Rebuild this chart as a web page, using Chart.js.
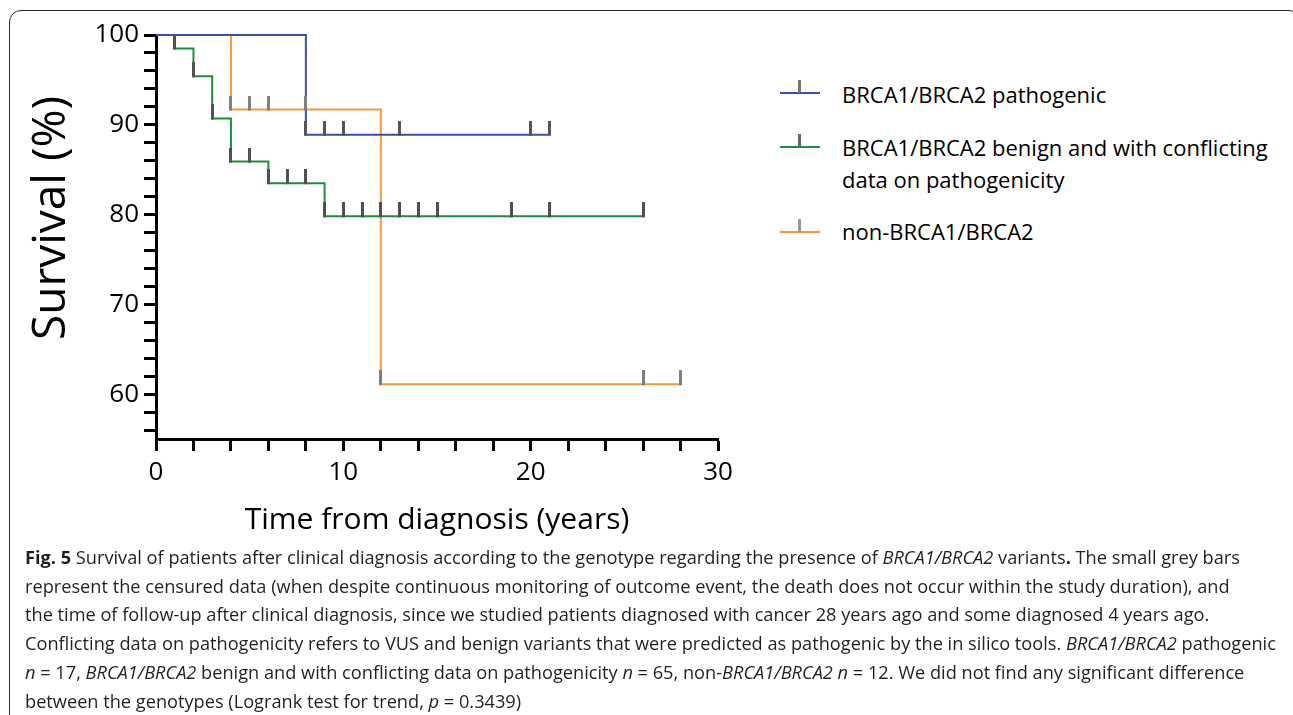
<!DOCTYPE html>
<html>
<head>
<meta charset="utf-8">
<script src="https://cdn.jsdelivr.net/npm/chart.js@4.4.1/dist/chart.umd.min.js"></script>
<style>
  body { margin: 0; width: 1293px; height: 715px; overflow: hidden; background: #fff; position: relative; font-family: "Open Sans", sans-serif; }
  #frame { position: absolute; left: 9px; top: 10px; width: 1290px; height: 730px; border: 1px solid #2a2a2a; border-radius: 12px; }
  #plot { position: absolute; left: 0; top: 0; }
  #ytitle { position: absolute; left: -153px; top: 188px; width: 400px; height: 60px; line-height: 60px; text-align: center;
            font-size: 46px; color: #000; transform: rotate(-90deg); white-space: nowrap; }
  .lg-line { position: absolute; left: 780px; width: 40px; height: 2px; }
  .lg-mark { position: absolute; left: 798px; width: 3px; height: 13px; }
  .lg-text { position: absolute; left: 842px; font-size: 22px; line-height: 31.7px; color: #000; white-space: nowrap; }
  #caption { position: absolute; left: 25px; top: 543px; font-size: 18.2px; line-height: 28.7px; color: #231f20; white-space: nowrap; }
</style>
</head>
<body>
<div id="frame"></div>
<canvas id="plot" width="760" height="545"></canvas>
<div id="ytitle">Survival (%)</div>

<div class="lg-line" style="top:92px;background:#3552a8"></div>
<div class="lg-mark" style="top:80px;background:#777"></div>
<div class="lg-text" style="top:78.5px">BRCA1/BRCA2 pathogenic</div>

<div class="lg-line" style="top:146px;background:#1f8c3c"></div>
<div class="lg-mark" style="top:134px;background:#666"></div>
<div class="lg-text" style="top:132px">BRCA1/BRCA2 benign and with conflicting<br>data on pathogenicity</div>

<div class="lg-line" style="top:231px;background:#f7963c"></div>
<div class="lg-mark" style="top:219px;background:#999"></div>
<div class="lg-text" style="top:216px">non-BRCA1/BRCA2</div>

<div id="caption">
<b>Fig. 5</b> Survival of patients after clinical diagnosis according to the genotype regarding the presence of <i>BRCA1/BRCA2</i> variants<b>.</b> The small grey bars<br>
represent the censured data (when despite continuous monitoring of outcome event, the death does not occur within the study duration), and<br>
the time of follow-up after clinical diagnosis, since we studied patients diagnosed with cancer 28 years ago and some diagnosed 4 years ago.<br>
Conflicting data on pathogenicity refers to VUS and benign variants that were predicted as pathogenic by the in silico tools. <i>BRCA1/BRCA2</i> pathogenic<br>
<i>n</i> = 17, <i>BRCA1/BRCA2</i> benign and with conflicting data on pathogenicity <i>n</i> = 65, non-<i>BRCA1/BRCA2</i> <i>n</i> = 12. We did not find any significant difference<br>
between the genotypes (Logrank test for trend, <i>p</i> = 0.3439)
</div>

<script>
// Kaplan-Meier steps: survival (%) holds until the next time point
const pathTimes = [0, 8, 21];
const pathSurv = [100, 88.9, 88.9];
const benignTimes = [0, 1, 2, 3, 4, 6, 9, 26];
const benignSurv = [100, 98.5, 95.4, 90.7, 85.9, 83.5, 79.8, 79.8];
const nonTimes = [0, 4, 12, 28];
const nonSurv = [100, 91.7, 61.1, 61.1];

// censored observations (grey bars)
const pathCensTimes = [5, 6, 7, 8, 9, 10, 13, 20, 21];
const pathCensSurv = [100, 100, 100, 88.9, 88.9, 88.9, 88.9, 88.9, 88.9];
const benignCensTimes = [1, 2, 3, 4, 5, 6, 7, 8, 9, 10, 11, 12, 13, 14, 15, 19, 21, 26];
const benignCensSurv = [98.5, 95.4, 90.7, 85.9, 85.9, 83.5, 83.5, 83.5, 79.8, 79.8, 79.8, 79.8, 79.8, 79.8, 79.8, 79.8, 79.8, 79.8];
const nonCensTimes = [4, 5, 6, 8, 12, 26, 28];
const nonCensSurv = [91.7, 91.7, 91.7, 91.7, 61.1, 61.1, 61.1];

const yTickValues = [56, 58, 60, 62, 64, 66, 68, 70, 72, 74, 76, 78, 80, 82, 84, 86, 88, 90, 92, 94, 96, 98, 100];

const FONT = '"Open Sans", sans-serif';
const pts = (xs, ys) => xs.map((x, i) => ({ x, y: ys[i] }));

// grey bar sitting on top of the curve
function censorMark(color) {
  const c = document.createElement('canvas');
  c.width = 3; c.height = 28;
  const g = c.getContext('2d');
  g.fillStyle = color;
  g.fillRect(0, 0, 3, 15);
  return c;
}

function curve(label, data, color, order) {
  return { label, data, borderColor: color, borderWidth: 2, stepped: true,
           pointRadius: 0, fill: false, clip: 4, order };
}
function censored(data, color) {
  return { data, showLine: false, pointStyle: censorMark(color), pointRadius: 3,
           pointBorderWidth: 0, clip: { left: 4, right: 4, top: 1, bottom: 4 }, order: 0 };
}

new Chart(document.getElementById('plot'), {
  type: 'line',
  data: {
    datasets: [
      curve('BRCA1/BRCA2 pathogenic', pts(pathTimes, pathSurv), '#3552a8', 1),
      curve('BRCA1/BRCA2 benign and with conflicting data on pathogenicity', pts(benignTimes, benignSurv), '#1f8c3c', 3),
      curve('non-BRCA1/BRCA2', pts(nonTimes, nonSurv), '#f7963c', 2),
      censored(pts(pathCensTimes, pathCensSurv), '#555'),
      censored(pts(benignCensTimes, benignCensSurv), '#505050'),
      censored(pts(nonCensTimes, nonCensSurv), '#7f7f7f'),
    ]
  },
  options: {
    responsive: false, animation: false, events: [],
    layout: { padding: { top: 35, right: 42, left: 0, bottom: 0 } },
    plugins: { legend: { display: false }, tooltip: { enabled: false } },
    scales: {
      x: {
        type: 'linear', min: 0, max: 30,
        afterFit: s => { s.height = 106; },
        ticks: { stepSize: 2, autoSkip: false, maxRotation: 0, padding: 6, color: '#000',
                 font: { family: FONT, size: 26 }, callback: v => (v % 10 === 0 ? v : '') },
        grid: { drawOnChartArea: false, tickLength: 12, tickWidth: 3, tickColor: '#000' },
        border: { color: '#000', width: 3 },
        title: { display: true, text: 'Time from diagnosis (years)', color: '#000',
                 font: { family: FONT, size: 30 }, padding: { top: 0, bottom: 7 } }
      },
      y: {
        min: 55, max: 100,
        afterFit: s => { s.width = 156; },
        afterBuildTicks: s => { s.ticks = yTickValues.map(v => ({ value: v })); },
        ticks: { autoSkip: false, padding: 5, color: '#000', font: { family: FONT, size: 26 },
                 callback: v => (v % 10 === 0 ? v : '') },
        grid: { drawOnChartArea: false, tickLength: 12, tickWidth: 3, tickColor: '#000' },
        border: { color: '#000', width: 3 }
      }
    }
  }
});
</script>
</body>
</html>
